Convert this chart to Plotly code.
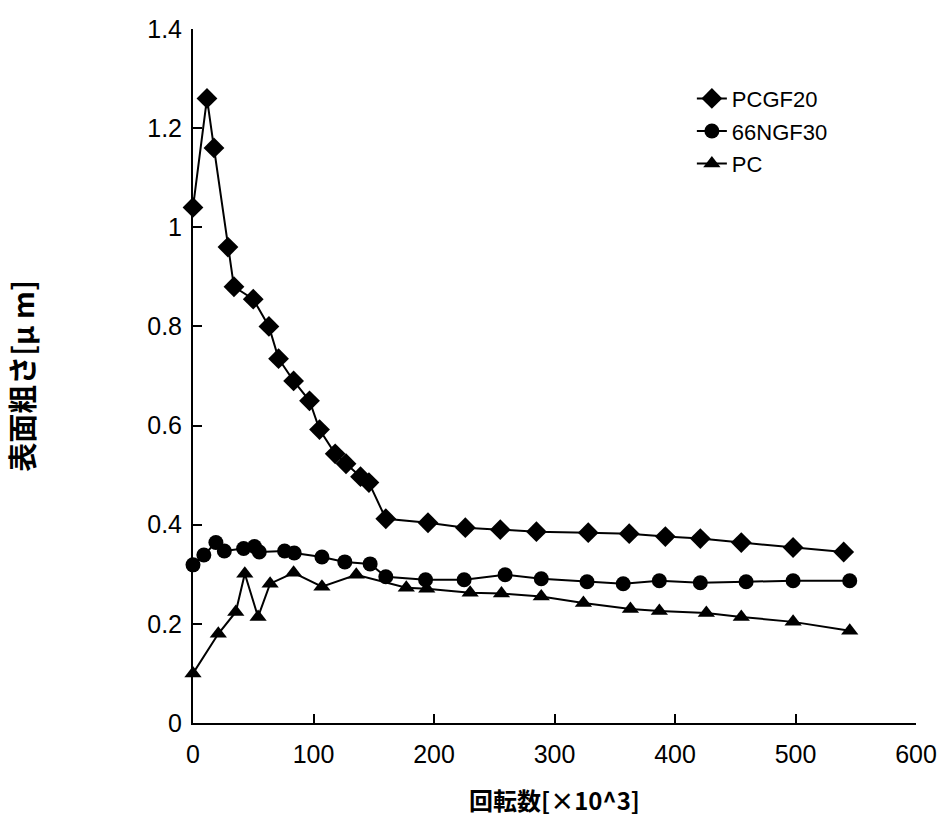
import plotly.graph_objects as go

# Revolutions [x10^3] and surface roughness [um] for each material
pcgf20_x = [0, 11.6, 17.4, 29, 34, 50, 63, 71, 83.5, 96.7, 105, 118, 127, 139, 146,
            160, 195, 226, 255, 285, 328, 362, 392, 421, 455, 498, 540]
pcgf20_y = [1.04, 1.26, 1.16, 0.96, 0.88, 0.855, 0.80, 0.735, 0.69, 0.65, 0.592, 0.543,
            0.523, 0.497, 0.485, 0.412, 0.404, 0.394, 0.39, 0.386, 0.384, 0.382, 0.376,
            0.372, 0.364, 0.354, 0.345]

ngf30_x = [0, 9, 19, 26, 42, 51, 55, 76, 84, 107, 126, 147, 160, 193, 225, 259, 289,
           327, 357, 387, 421, 459, 498, 545]
ngf30_y = [0.319, 0.339, 0.364, 0.347, 0.352, 0.356, 0.345, 0.347, 0.343, 0.335, 0.325,
           0.321, 0.295, 0.289, 0.289, 0.299, 0.291, 0.285, 0.281, 0.287, 0.283, 0.285,
           0.287, 0.287]

pc_x = [0, 21, 35.5, 43, 54, 64, 83.5, 107, 135.5, 177, 194, 230, 256, 289, 324, 363,
        387, 426, 455, 498, 545]
pc_y = [0.10, 0.18, 0.224, 0.301, 0.214, 0.281, 0.303, 0.275, 0.299, 0.273, 0.271,
        0.263, 0.261, 0.255, 0.242, 0.230, 0.226, 0.222, 0.214, 0.204, 0.186]

series = [
    ("PCGF20", pcgf20_x, pcgf20_y, "diamond", 16),
    ("66NGF30", ngf30_x, ngf30_y, "circle", 15),
    ("PC", pc_x, pc_y, "triangle-up", 15),
]

x_ticks = [0, 100, 200, 300, 400, 500, 600]
y_ticks = [0, 0.2, 0.4, 0.6, 0.8, 1.0, 1.2, 1.4]
y_tick_text = ["0", "0.2", "0.4", "0.6", "0.8", "1", "1.2", "1.4"]

fig = go.Figure()
for name, xs, ys, sym, size in series:
    fig.add_trace(go.Scatter(
        x=xs, y=ys, name=name, mode="lines+markers", legendgroup=name,
        line=dict(color="black", width=2),
        marker=dict(symbol=sym, size=size, color="black"),
        cliponaxis=False,
    ))

tick_font = dict(family="Liberation Sans, Arial, sans-serif", size=25, color="black")
title_font = dict(family="Noto Sans CJK JP", size=24, color="black", weight="bold")

fig.update_layout(
    width=949, height=830,
    margin=dict(l=193, r=30, t=29, b=107),
    plot_bgcolor="white", paper_bgcolor="white",
    showlegend=True,
    legend=dict(
        x=0.69, y=0.93, xanchor="left", yanchor="top",
        font=dict(family="Liberation Sans, Arial, sans-serif", size=22, color="black"),
        bgcolor="rgba(0,0,0,0)", tracegroupgap=1, traceorder="grouped",
    ),
    xaxis=dict(
        range=[0, 600], tickvals=x_ticks, ticktext=[str(v) for v in x_ticks],
        showgrid=False, zeroline=False, showline=True, linecolor="black", linewidth=2,
        ticks="inside", ticklen=9, tickwidth=2, tickcolor="black",
        tickfont=tick_font, ticklabelstandoff=8,
        title=dict(text="回転数[×10^3]", font=title_font, standoff=26),
    ),
    yaxis=dict(
        range=[0, 1.4], tickvals=y_ticks, ticktext=y_tick_text,
        showgrid=False, zeroline=False, showline=True, linecolor="black", linewidth=2,
        ticks="inside", ticklen=9, tickwidth=2, tickcolor="black",
        tickfont=tick_font, ticklabelstandoff=4,
        title=dict(text="表面粗さ[μ m]", font=dict(title_font, size=29), standoff=104),
    ),
)

fig.write_html("out.html")
